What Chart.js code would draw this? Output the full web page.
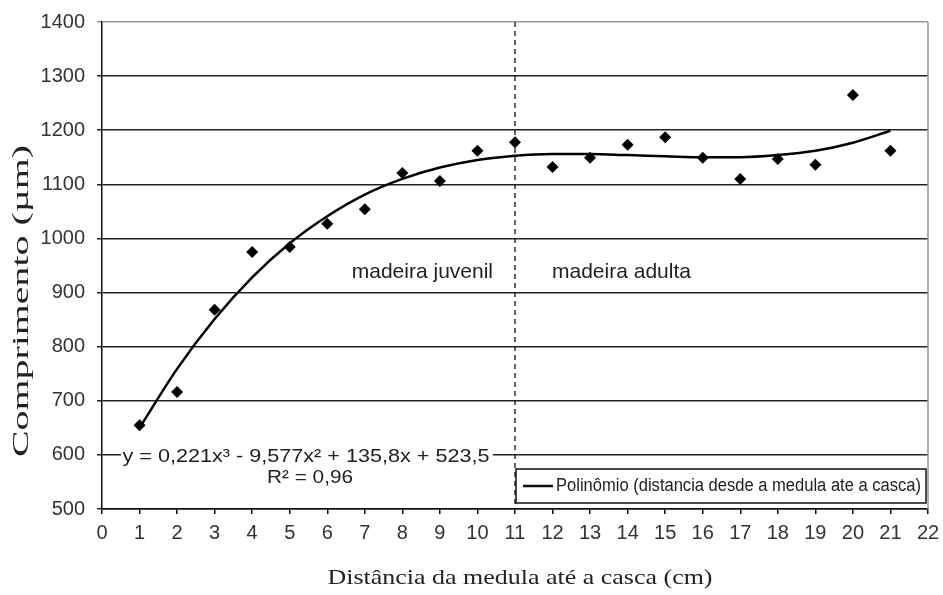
<!DOCTYPE html>
<html>
<head>
<meta charset="utf-8">
<script src="https://cdn.jsdelivr.net/npm/chart.js@4"></script>
<style>
  body { margin: 0; background: #fff; }
  #wrap { width: 943px; height: 595px; }
</style>
</head>
<body>
<div id="wrap"><canvas id="myChart"></canvas></div>
<script>
const distance = [1, 2, 3, 4, 5, 6, 7, 8, 9, 10, 11, 12, 13, 14, 15, 16, 17, 18, 19, 20, 21]
const length = [655, 716, 868, 975, 984, 1027, 1054, 1121, 1106, 1162, 1178, 1132, 1149, 1173, 1187, 1149, 1110, 1147, 1136, 1265, 1162]
// trend curve at each cm
const trend = [650, 759, 851, 928, 991, 1041, 1081, 1110, 1131, 1145, 1153, 1156, 1156, 1154, 1152, 1150, 1150, 1154, 1162, 1177, 1199]
const dividerAt = 11
const equation = 'y = 0,221x³ - 9,577x² + 135,8x + 523,5'
const rSquared = 'R² = 0,96'
const zoneLabels = ['madeira juvenil', 'madeira adulta']
const legendLabel = 'Polinômio (distancia desde a medula ate a casca)'
const xTitle = 'Distância da medula até a casca (cm)'
const yTitle = 'Comprimento (µm)'

const sans = "'Liberation Sans', Arial, sans-serif"
const serif = "'Liberation Serif', 'Times New Roman', serif"

const ctx = document.getElementById('myChart')

// draw text stretched to a given width
const fitText = (c, txt, x, y, width) => {
  const w = c.measureText(txt).width
  c.save()
  c.translate(x, y)
  c.scale(width / w, 1)
  c.fillText(txt, 0, 0)
  c.restore()
}

const extras = {
  id: 'extras',
  beforeDatasetsDraw(chart) {
    const { ctx, chartArea: a, scales: { x } } = chart
    const xd = x.getPixelForValue(dividerAt)
    ctx.save()
    ctx.strokeStyle = '#111'
    ctx.lineWidth = 1.3
    ctx.setLineDash([5, 4])
    ctx.beginPath()
    ctx.moveTo(xd, a.top)
    ctx.lineTo(xd, a.bottom)
    ctx.stroke()
    ctx.restore()
    // right border
    ctx.save()
    ctx.strokeStyle = '#999'
    ctx.lineWidth = 1.5
    ctx.beginPath()
    ctx.moveTo(a.right, a.top)
    ctx.lineTo(a.right, a.bottom)
    ctx.stroke()
    ctx.restore()
  },
  afterDraw(chart) {
    const { ctx, chartArea: a, scales: { x, y } } = chart
    const xd = x.getPixelForValue(dividerAt)
    ctx.save()
    ctx.fillStyle = '#222'

    // zone labels
    ctx.font = '21px ' + sans
    ctx.textBaseline = 'middle'
    ctx.textAlign = 'right'
    ctx.fillText(zoneLabels[0], xd - 22, 272)
    ctx.textAlign = 'left'
    ctx.fillText(zoneLabels[1], xd + 37, 272)

    // equation with white box
    const y600 = y.getPixelForValue(600)
    ctx.fillStyle = '#fff'
    ctx.fillRect(a.left + 19, y600 - 11, 372, 22)
    ctx.fillStyle = '#222'
    ctx.font = '19px ' + sans
    ctx.textAlign = 'center'
    fitText(ctx, equation, a.left + 204, y600 + 2, 367)
    fitText(ctx, rSquared, a.left + 208, y600 + 23, 86)

    // legend box
    const bl = xd + 1, br = a.right - 2, bt = a.bottom - 40, bb = a.bottom - 6
    ctx.fillStyle = '#fff'
    ctx.fillRect(bl, bt, br - bl, bb - bt)
    ctx.strokeStyle = '#111'
    ctx.lineWidth = 1.5
    ctx.strokeRect(bl, bt, br - bl, bb - bt)
    const my = (bt + bb) / 2
    ctx.lineWidth = 2.5
    ctx.beginPath()
    ctx.moveTo(bl + 7, my)
    ctx.lineTo(bl + 37, my)
    ctx.stroke()
    ctx.fillStyle = '#222'
    ctx.font = '18px ' + sans
    ctx.textAlign = 'left'
    fitText(ctx, legendLabel, bl + 40, my, br - bl - 45)

    // axis titles
    ctx.font = '21px ' + serif
    ctx.textAlign = 'center'
    fitText(ctx, xTitle, 520, 578, 385)

    ctx.font = '23px ' + serif
    ctx.save()
    ctx.translate(22, 301)
    ctx.rotate(-Math.PI / 2)
    fitText(ctx, yTitle, 0, 0, 312)
    ctx.restore()

    ctx.restore()
  }
}

const myChart = new Chart(ctx, {
  type: 'scatter',
  data: {
    datasets: [
      {
        label: 'Comprimento',
        data: distance.map((d, i) => ({ x: d, y: length[i] })),
        pointStyle: 'rectRot',
        pointRadius: 6,
        pointHoverRadius: 6,
        backgroundColor: '#000',
        borderColor: '#000',
        borderWidth: 0
      },
      {
        label: legendLabel,
        data: distance.map((d, i) => ({ x: d, y: trend[i] })),
        showLine: true,
        pointRadius: 0,
        borderColor: '#000',
        borderWidth: 2.5,
        cubicInterpolationMode: 'monotone'
      }
    ]
  },
  options: {
    animation: false,
    responsive: true,
    maintainAspectRatio: false,
    layout: { padding: { top: 22, right: 0, left: 0, bottom: 0 } },
    plugins: {
      legend: { display: false },
      tooltip: { enabled: false }
    },
    scales: {
      x: {
        type: 'linear',
        min: 0,
        max: 22,
        afterFit: s => {
          s.height = 86
          s.paddingLeft = 0
          s.paddingRight = 15
        },
        ticks: {
          stepSize: 1,
          color: '#333',
          padding: 7,
          font: { family: sans, size: 20 }
        },
        grid: {
          drawOnChartArea: false,
          drawTicks: true,
          tickLength: 5,
          color: '#111',
          lineWidth: 1.5
        },
        border: { color: '#111', width: 1.5 }
      },
      y: {
        min: 500,
        max: 1400,
        afterFit: s => {
          s.width = 102
          s.paddingTop = 0
          s.paddingBottom = 0
        },
        ticks: {
          stepSize: 100,
          color: '#333',
          padding: 12,
          font: { family: sans, size: 20 },
          callback: v => String(v)
        },
        grid: {
          drawTicks: true,
          tickLength: 5,
          color: c => c.tick && c.tick.value === 1400 ? '#999' : '#222',
          lineWidth: 1.5
        },
        border: { color: '#111', width: 1.5 }
      }
    }
  },
  plugins: [extras]
})
</script>
</body>
</html>
